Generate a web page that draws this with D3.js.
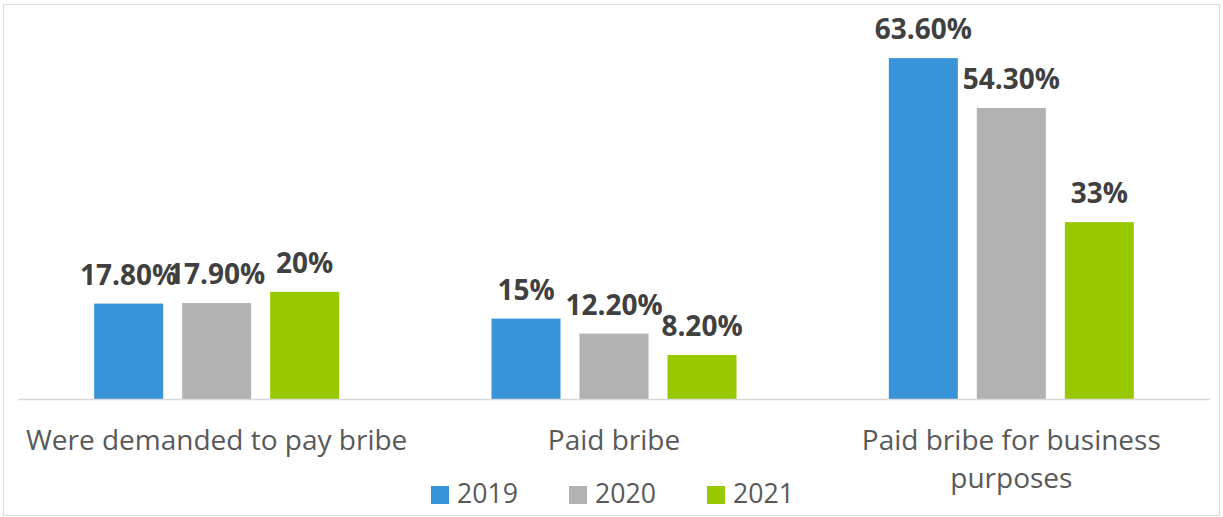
<!DOCTYPE html>
<html>
<head>
<meta charset="utf-8">
<script src="https://cdn.jsdelivr.net/npm/d3@7"></script>
<style>
  html, body { margin: 0; padding: 0; background: #fff; }
  svg { display: block; font-family: "Open Sans", sans-serif; }
</style>
</head>
<body>
<svg id="chart" width="1223" height="517"></svg>
<script>
// Survey categories and yearly shares (%)
const categories = ["Were demanded to pay bribe", "Paid bribe", "Paid bribe for business purposes"];
const years = ["2019", "2020", "2021"];
const values2019 = [17.8, 15, 63.6];
const values2020 = [17.9, 12.2, 54.3];
const values2021 = [20, 8.2, 33];
const valueLabels2019 = ["17.80%", "15%", "63.60%"];
const valueLabels2020 = ["17.90%", "12.20%", "54.30%"];
const valueLabels2021 = ["20%", "8.20%", "33%"];
const colors = ["#3794d8", "#b2b2b2", "#97c800"];

const seriesValues = [values2019, values2020, values2021];
const seriesLabels = [valueLabels2019, valueLabels2020, valueLabels2021];

const svg = d3.select("#chart");

// outer frame
svg.append("rect")
  .attr("x", 3.5).attr("y", 4.5)
  .attr("width", 1216).attr("height", 511)
  .attr("fill", "#fff").attr("stroke", "#d9d9d9").attr("stroke-width", 1);

const baseY = 399;
const x0 = d3.scaleBand().domain(categories).range([18, 1210]).padding(0);
const groupW = 245;
const x1 = d3.scaleBand().domain(years).range([0, groupW])
  .paddingInner(19 / 88).paddingOuter(0);
const y = d3.scaleLinear().domain([0, 70]).range([baseY, baseY - 70 * 5.36]);

const rows = [];
categories.forEach((c, i) => {
  years.forEach((yr, j) => {
    rows.push({ cat: c, year: yr, value: seriesValues[j][i], label: seriesLabels[j][i], color: colors[j] });
  });
});

const barX = d => x0(d.cat) + (x0.bandwidth() - groupW) / 2 + x1(d.year);

svg.append("g").selectAll("rect")
  .data(rows).join("rect")
  .attr("x", barX)
  .attr("y", d => y(d.value))
  .attr("width", x1.bandwidth())
  .attr("height", d => y(0) - y(d.value))
  .attr("fill", d => d.color);

// axis baseline
svg.append("line")
  .attr("x1", x0.range()[0]).attr("x2", x0.range()[1])
  .attr("y1", y(0) + 0.5).attr("y2", y(0) + 0.5)
  .attr("stroke", "#d9d9d9").attr("stroke-width", 1.5);

// value labels
svg.append("g").selectAll("text")
  .data(rows).join("text")
  .attr("x", d => barX(d) + x1.bandwidth() / 2)
  .attr("y", d => y(d.value) - 19)
  .attr("text-anchor", "middle")
  .attr("font-size", "28px")
  .attr("font-weight", "bold")
  .attr("fill", "#404040")
  .text(d => d.label);

// category labels, wrapped to the band width
const catG = svg.append("g");
categories.forEach(c => {
  const cx = x0(c) + x0.bandwidth() / 2;
  const t = catG.append("text")
    .attr("x", cx)
    .attr("y", 450)
    .attr("text-anchor", "middle")
    .attr("font-size", "28px")
    .attr("fill", "#595959");
  const words = c.split(" ");
  let line = [];
  let tspan = t.append("tspan").attr("x", cx).attr("dy", 0);
  words.forEach(w => {
    line.push(w);
    tspan.text(line.join(" "));
    if (tspan.node().getComputedTextLength() > 392 && line.length > 1) {
      line.pop();
      tspan.text(line.join(" "));
      line = [w];
      tspan = t.append("tspan").attr("x", cx).attr("dy", 37.5).text(w);
    }
  });
});

// legend
const legendX = [431, 569, 707];
const leg = svg.append("g").selectAll("g")
  .data(years).join("g")
  .attr("transform", (d, i) => `translate(${legendX[i]},486)`);
leg.append("rect")
  .attr("width", 18).attr("height", 18)
  .attr("fill", (d, i) => colors[i]);
leg.append("text")
  .attr("x", 26).attr("y", 17)
  .attr("font-size", "26.67px")
  .attr("fill", "#595959")
  .text(d => d);
</script>
</body>
</html>
